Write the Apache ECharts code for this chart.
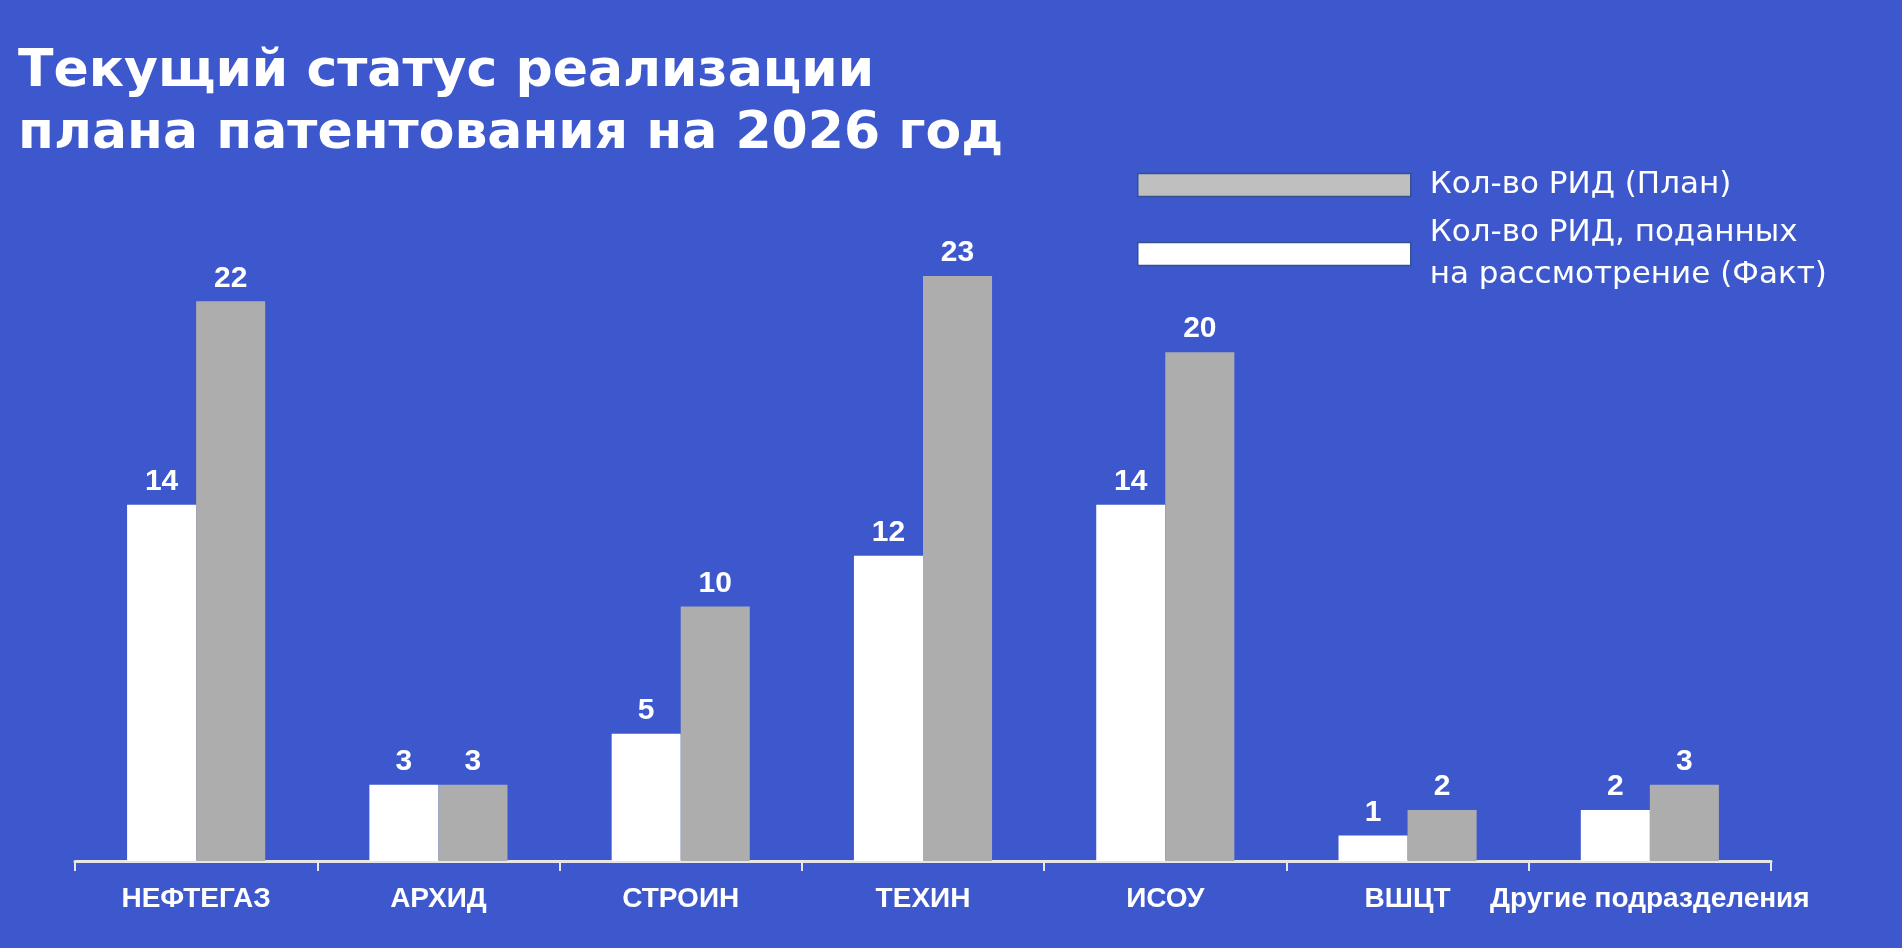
<!DOCTYPE html>
<html>
<head>
<meta charset="utf-8">
<script src="https://cdn.jsdelivr.net/npm/echarts@6/dist/echarts.min.js"></script>
<style>
  html, body { margin: 0; padding: 0; background: #3D58CD; }
  #main { width: 1902px; height: 948px; }
</style>
</head>
<body>
<div id="main"></div>
<script>
// Данные
var categories = ["НЕФТЕГАЗ", "АРХИД", "СТРОИН", "ТЕХИН", "ИСОУ", "ВШЦТ", "Другие подразделения"];
var factValues = [14, 3, 5, 12, 14, 1, 2];
var planValues = [22, 3, 10, 23, 20, 2, 3];
var planName = "Кол-во РИД (План)";
var factName = "Кол-во РИД, поданных\nна рассмотрение (Факт)";

var chartDom = document.getElementById("main");
var myChart = echarts.init(chartDom);
var option;

var labelStyle = {
  show: true,
  position: "top",
  distance: 8,
  color: "#ffffff",
  fontFamily: "Liberation Sans, Arial, sans-serif",
  fontWeight: "bold",
  fontSize: 30
};

option = {
  backgroundColor: "#3D58CD",
  animation: false,
  title: {
    text: "Текущий статус реализации\nплана патентования на 2026 год",
    left: 18,
    top: 41,
    padding: 0,
    textStyle: {
      color: "#ffffff",
      fontFamily: "DejaVu Sans",
      fontWeight: "bold",
      fontSize: 52,
      lineHeight: 62
    }
  },
  legend: {
    orient: "vertical",
    left: 1137,
    top: 164,
    padding: 0,
    itemWidth: 273,
    itemHeight: 23,
    itemGap: 6,
    selectedMode: false,
    textStyle: {
      color: "#ffffff",
      fontFamily: "DejaVu Sans",
      fontSize: 31,
      lineHeight: 42,
      padding: [0, 0, 0, 14]
    },
    data: [
      { name: planName, icon: "rect", itemStyle: { color: "#BFBFBF", borderColor: "#34508F", borderWidth: 1.5 } },
      { name: factName, icon: "rect", itemStyle: { color: "#ffffff", borderColor: "#34508F", borderWidth: 1.5 } }
    ]
  },
  grid: {
    left: 75,
    right: 131,
    top: 225,
    bottom: 87
  },
  xAxis: {
    type: "category",
    data: categories,
    axisLine: { lineStyle: { color: "#E6E6E6", width: 3 } },
    axisTick: { show: true, length: 10, lineStyle: { color: "#E6E6E6", width: 2 } },
    axisLabel: {
      interval: 0,
      margin: 24,
      color: "#ffffff",
      fontFamily: "Liberation Sans, Arial, sans-serif",
      fontWeight: "bold",
      fontSize: 28
    }
  },
  yAxis: {
    type: "value",
    min: 0,
    max: 25,
    show: false,
    splitLine: { show: false }
  },
  series: [
    {
      name: factName,
      type: "bar",
      data: factValues,
      barWidth: "28.5%",
      barGap: "0%",
      itemStyle: { color: "#ffffff" },
      label: labelStyle
    },
    {
      name: planName,
      type: "bar",
      data: planValues,
      barWidth: "28.5%",
      itemStyle: { color: "#AEADAE" },
      label: labelStyle
    }
  ]
};

option && myChart.setOption(option);
</script>
</body>
</html>
